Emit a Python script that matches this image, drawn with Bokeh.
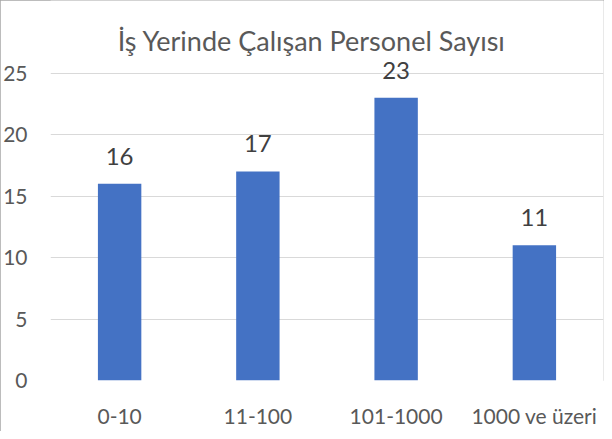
from bokeh.plotting import figure
from bokeh.models import ColumnDataSource, FixedTicker, LabelSet, Label, FactorRange, Range1d
from bokeh.core.properties import value
from bokeh.embed import file_html
from bokeh.resources import INLINE

categories = ["0-10", "11-100", "101-1000", "1000 ve üzeri"]
values = [16, 17, 23, 11]
y_ticks = [0, 5, 10, 15, 20, 25]
title_text = "İş Yerinde Çalışan Personel Sayısı"

src = ColumnDataSource(dict(cat=categories, val=values, lbl=[str(v) for v in values]))

p = figure(width=604, height=431,
           x_range=FactorRange(*categories, range_padding=0),
           y_range=Range1d(0, 30.9),
           output_backend="svg", toolbar_location=None,
           min_border_left=49, min_border_right=1,
           min_border_top=0, min_border_bottom=51)

p.vbar(x="cat", top="val", width=0.314, source=src, color="#4472C4", line_color=None)

labels = LabelSet(x="cat", y="val", text="lbl", source=src, y_offset=19,
                  text_align="center", text_baseline="alphabetic",
                  text_font_size=value("24px"), text_color=value("#404040"),
                  text_font=value("Lato"))
p.add_layout(labels)

title = Label(x=1.89, y=27.64, text=title_text, text_align="center",
              text_baseline="alphabetic", text_font_size="27px",
              text_color="#595959", text_font="Lato")
p.add_layout(title)

p.outline_line_color = None
p.background_fill_color = "white"
p.border_fill_color = "white"

p.yaxis.ticker = FixedTicker(ticks=y_ticks)
p.ygrid.ticker = FixedTicker(ticks=y_ticks)
p.ygrid.grid_line_color = "#d9d9d9"
p.ygrid.grid_line_width = 1
p.xgrid.grid_line_color = None

for ax in (p.xaxis, p.yaxis):
    ax.axis_line_color = None
    ax.major_tick_line_color = None
    ax.minor_tick_line_color = None
    ax.major_tick_out = 0
    ax.major_tick_in = 0
    ax.major_label_text_color = "#595959"
    ax.major_label_text_font = "Lato"
    ax.major_label_text_font_size = "21px"

p.yaxis.major_label_standoff = 23
p.xaxis.major_label_standoff = 22

p.styles = {"outline": "1px solid #a6a6a6", "outline-offset": "-1px"}

open("out.html", "w").write(file_html(p, INLINE))
